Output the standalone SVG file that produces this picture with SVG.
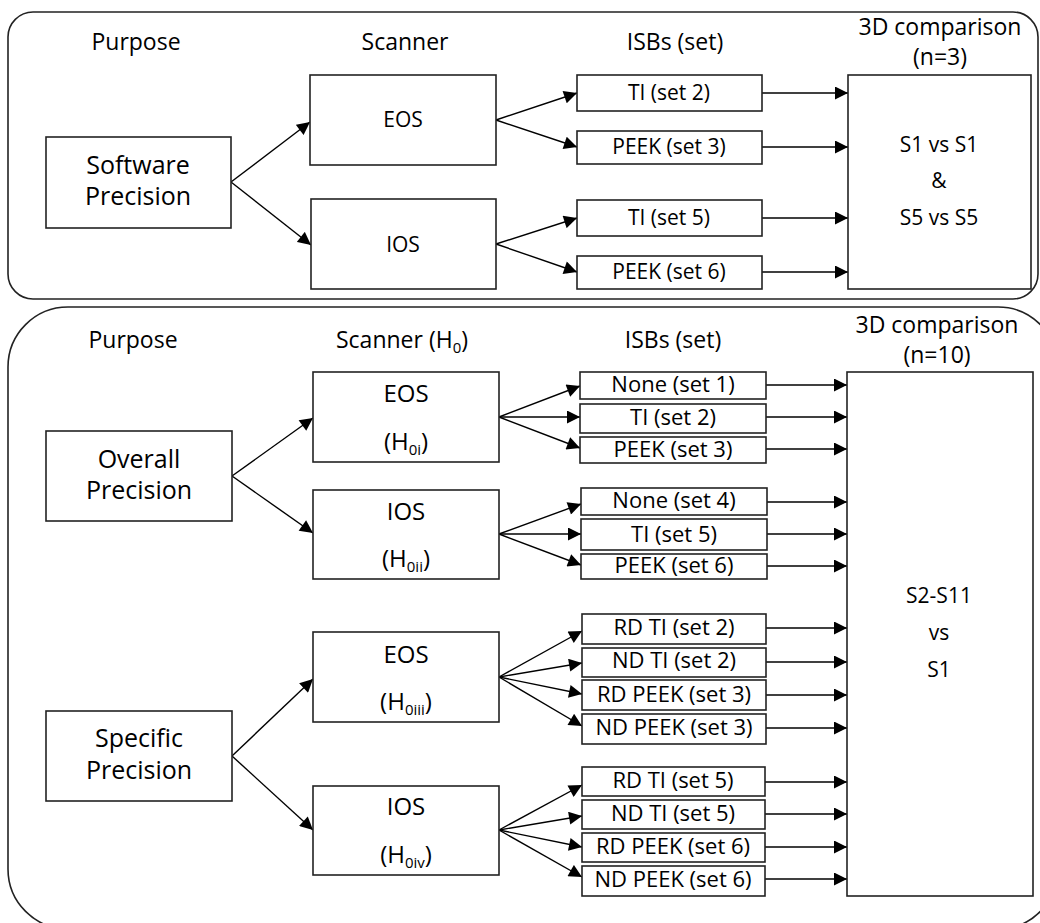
<svg xmlns="http://www.w3.org/2000/svg" width="1040" height="923" viewBox="0 0 1040 923">
<defs>
<marker id="ah" viewBox="0 0 14 14" refX="14" refY="7" markerWidth="14" markerHeight="13" markerUnits="userSpaceOnUse" orient="auto">
<path d="M0,0 L14,7 L0,14 z" fill="#000"/>
</marker>
</defs>
<style>
text{font-family:"Open Sans","Liberation Sans",sans-serif;fill:#000;text-anchor:middle}
.panel{fill:#fff;stroke:#222;stroke-width:1.6}
.box{fill:#fff;stroke:#222;stroke-width:1.6}
.hd{font-size:23px}
.big{font-size:25px}
.sc{font-size:21px}
.sc2{font-size:24px}
.isb{font-size:21px}
.isb2{font-size:22px}
.sub{font-size:15px}
.conn line{stroke:#000;stroke-width:1.4;marker-end:url(#ah)}
</style>
<rect width="1040" height="923" fill="#fff"/>

<!-- panels -->
<rect id="panel-top" class="panel" x="8" y="12" width="1030" height="287" rx="25" ry="25"/>
<rect id="panel-bottom" class="panel" x="8" y="307" width="1050" height="622" rx="60" ry="60"/>

<!-- headers -->
<g id="headers-top">
<text class="hd" x="136" y="50">Purpose</text>
<text class="hd" x="405" y="50">Scanner</text>
<text class="hd" x="675" y="50">ISBs (set)</text>
<text class="hd" x="940" y="35">3D comparison</text>
<text class="hd" x="940" y="65">(n=3)</text>
</g>
<g id="headers-bottom">
<text class="hd" x="133" y="348">Purpose</text>
<text class="hd" x="402" y="348">Scanner (H<tspan class="sub" dy="5">0</tspan><tspan dy="-5">)</tspan></text>
<text class="hd" x="673" y="348">ISBs (set)</text>
<text class="hd" x="937" y="333">3D comparison</text>
<text class="hd" x="937" y="363">(n=10)</text>
</g>

<!-- connectors -->
<g id="connectors" class="conn">
<line x1="231" y1="182" x2="310" y2="122"/>
<line x1="231" y1="182" x2="311" y2="245"/>
<line x1="496" y1="120" x2="577" y2="93"/>
<line x1="496" y1="120" x2="577" y2="147"/>
<line x1="496" y1="244" x2="577" y2="218"/>
<line x1="496" y1="244" x2="577" y2="272"/>
<line x1="762" y1="93" x2="848" y2="93"/>
<line x1="762" y1="147" x2="848" y2="147"/>
<line x1="762" y1="218" x2="848" y2="218"/>
<line x1="762" y1="272" x2="848" y2="272"/>

<line x1="232" y1="476" x2="313" y2="418"/>
<line x1="232" y1="476" x2="313" y2="533"/>
<line x1="499" y1="417" x2="580" y2="386"/>
<line x1="499" y1="417" x2="580" y2="417"/>
<line x1="499" y1="417" x2="580" y2="448"/>
<line x1="499" y1="534" x2="581" y2="504"/>
<line x1="499" y1="534" x2="581" y2="534"/>
<line x1="499" y1="534" x2="581" y2="565"/>
<line x1="766" y1="385" x2="847" y2="385"/>
<line x1="766" y1="417" x2="847" y2="417"/>
<line x1="766" y1="449" x2="847" y2="449"/>
<line x1="767" y1="502" x2="847" y2="502"/>
<line x1="767" y1="534" x2="847" y2="534"/>
<line x1="767" y1="566" x2="847" y2="566"/>

<line x1="232" y1="756" x2="313" y2="679"/>
<line x1="232" y1="756" x2="313" y2="830"/>
<line x1="499" y1="677" x2="582" y2="631"/>
<line x1="499" y1="677" x2="582" y2="663"/>
<line x1="499" y1="677" x2="582" y2="694"/>
<line x1="499" y1="677" x2="582" y2="726"/>
<line x1="499" y1="830" x2="582" y2="785"/>
<line x1="499" y1="830" x2="582" y2="816"/>
<line x1="499" y1="830" x2="582" y2="847"/>
<line x1="499" y1="830" x2="582" y2="877"/>
<line x1="766" y1="628" x2="847" y2="628"/>
<line x1="766" y1="662" x2="847" y2="662"/>
<line x1="766" y1="695" x2="847" y2="695"/>
<line x1="766" y1="728" x2="847" y2="728"/>
<line x1="765" y1="782" x2="847" y2="782"/>
<line x1="765" y1="814" x2="847" y2="814"/>
<line x1="765" y1="847" x2="847" y2="847"/>
<line x1="765" y1="879" x2="847" y2="879"/>
</g>

<!-- top panel nodes -->
<g id="software-precision"><rect class="box" x="46" y="137" width="185" height="91"/>
<text class="big" x="138" y="174">Software</text><text class="big" x="138" y="205">Precision</text></g>
<g id="eos-top"><rect class="box" x="310" y="75" width="186" height="90"/><text class="sc" x="403" y="127">EOS</text></g>
<g id="ios-top"><rect class="box" x="311" y="199" width="185" height="90"/><text class="sc" x="403" y="252">IOS</text></g>
<g id="ti2-top"><rect class="box" x="577" y="75" width="185" height="36"/><text class="isb" x="669" y="100">TI (set 2)</text></g>
<g id="peek3-top"><rect class="box" x="577" y="131" width="185" height="33"/><text class="isb" x="669" y="154">PEEK (set 3)</text></g>
<g id="ti5-top"><rect class="box" x="577" y="200" width="185" height="36"/><text class="isb" x="669" y="225">TI (set 5)</text></g>
<g id="peek6-top"><rect class="box" x="577" y="256" width="185" height="33"/><text class="isb" x="669" y="279">PEEK (set 6)</text></g>
<g id="comparison-top"><rect class="box" x="848" y="75" width="183" height="214"/>
<text class="sc" x="939" y="152">S1 vs S1</text><text class="sc" x="939" y="188">&amp;</text><text class="sc" x="939" y="225">S5 vs S5</text></g>

<!-- bottom panel nodes -->
<g id="overall-precision"><rect class="box" x="46" y="431" width="186" height="90"/>
<text class="big" x="139" y="468">Overall</text><text class="big" x="139" y="499">Precision</text></g>
<g id="eos-h0i"><rect class="box" x="313" y="372" width="186" height="90"/>
<text class="sc2" x="406" y="402">EOS</text>
<text class="sc2" x="406" y="450">(H<tspan class="sub" dy="5">0i</tspan><tspan dy="-5">)</tspan></text></g>
<g id="ios-h0ii"><rect class="box" x="313" y="490" width="186" height="89"/>
<text class="sc2" x="406" y="520">IOS</text>
<text class="sc2" x="406" y="567">(H<tspan class="sub" dy="5">0ii</tspan><tspan dy="-5">)</tspan></text></g>
<g id="none1"><rect class="box" x="580" y="372" width="186" height="27"/><text class="isb2" x="673" y="392">None (set 1)</text></g>
<g id="ti2"><rect class="box" x="580" y="404" width="186" height="29"/><text class="isb2" x="673" y="425">TI (set 2)</text></g>
<g id="peek3"><rect class="box" x="580" y="437" width="186" height="26"/><text class="isb2" x="673" y="457">PEEK (set 3)</text></g>
<g id="none4"><rect class="box" x="581" y="488" width="186" height="27"/><text class="isb2" x="674" y="508">None (set 4)</text></g>
<g id="ti5"><rect class="box" x="581" y="519" width="186" height="31"/><text class="isb2" x="674" y="542">TI (set 5)</text></g>
<g id="peek6"><rect class="box" x="581" y="554" width="186" height="25"/><text class="isb2" x="674" y="573">PEEK (set 6)</text></g>

<g id="specific-precision"><rect class="box" x="46" y="711" width="186" height="90"/>
<text class="big" x="139" y="747">Specific</text><text class="big" x="139" y="779">Precision</text></g>
<g id="eos-h0iii"><rect class="box" x="313" y="632" width="186" height="90"/>
<text class="sc2" x="406" y="663">EOS</text>
<text class="sc2" x="406" y="710">(H<tspan class="sub" dy="5">0iii</tspan><tspan dy="-5">)</tspan></text></g>
<g id="ios-h0iv"><rect class="box" x="313" y="786" width="186" height="89"/>
<text class="sc2" x="406" y="815">IOS</text>
<text class="sc2" x="406" y="863">(H<tspan class="sub" dy="5">0iv</tspan><tspan dy="-5">)</tspan></text></g>
<g id="rdti2"><rect class="box" x="582" y="614" width="184" height="30"/><text class="isb2" x="674" y="635">RD TI (set 2)</text></g>
<g id="ndti2"><rect class="box" x="582" y="648" width="184" height="29"/><text class="isb2" x="674" y="668">ND TI (set 2)</text></g>
<g id="rdpeek3"><rect class="box" x="582" y="680" width="184" height="30"/><text class="isb2" x="674" y="702">RD PEEK (set 3)</text></g>
<g id="ndpeek3"><rect class="box" x="582" y="714" width="184" height="30"/><text class="isb2" x="674" y="735">ND PEEK (set 3)</text></g>
<g id="rdti5"><rect class="box" x="582" y="767" width="183" height="29"/><text class="isb2" x="673" y="788">RD TI (set 5)</text></g>
<g id="ndti5"><rect class="box" x="582" y="800" width="183" height="29"/><text class="isb2" x="673" y="821">ND TI (set 5)</text></g>
<g id="rdpeek6"><rect class="box" x="582" y="833" width="183" height="29"/><text class="isb2" x="673" y="854">RD PEEK (set 6)</text></g>
<g id="ndpeek6"><rect class="box" x="582" y="866" width="183" height="30"/><text class="isb2" x="673" y="887">ND PEEK (set 6)</text></g>

<g id="comparison-bottom"><rect class="box" x="847" y="372" width="186" height="524"/>
<text class="sc" x="939" y="603">S2-S11</text><text class="sc" x="939" y="640">vs</text><text class="sc" x="939" y="677">S1</text></g>
</svg>
